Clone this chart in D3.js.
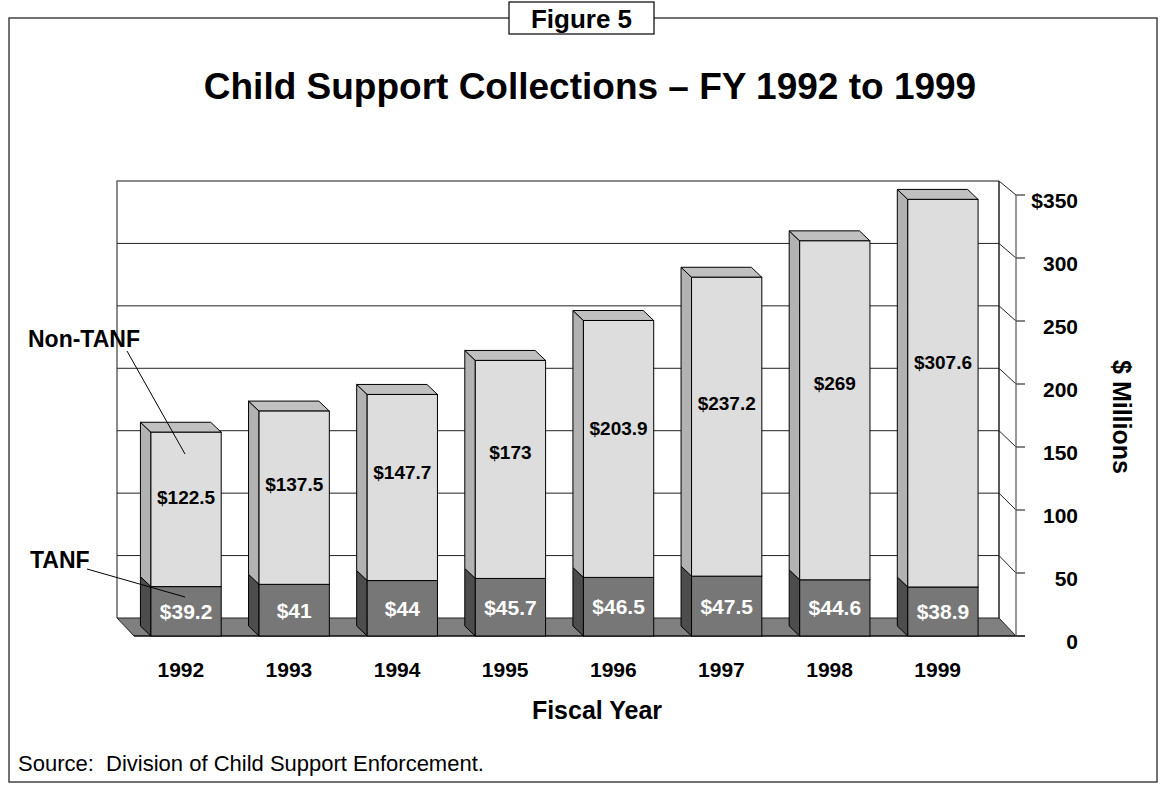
<!DOCTYPE html>
<html><head><meta charset="utf-8">
<script src="https://cdn.jsdelivr.net/npm/d3@7"></script>
<style>html,body{margin:0;padding:0;background:#fff;}svg{display:block;}text{font-family:"Liberation Sans",Arial,sans-serif;}</style>
</head><body>
<svg id="chart" width="1166" height="791"></svg>
<script>
const years = ["1992","1993","1994","1995","1996","1997","1998","1999"];
const tanf = [39.2, 41, 44, 45.7, 46.5, 47.5, 44.6, 38.9];
const nonTanf = [122.5, 137.5, 147.7, 173, 203.9, 237.2, 269, 307.6];
const yTicks = [0, 50, 100, 150, 200, 250, 300, 350];
const yTickLabels = ["0", "50", "100", "150", "200", "250", "300", "$350"];
const seriesNames = ["Non-TANF", "TANF"];

const svg = d3.select("#chart");

// frame
svg.append("path").attr("d","M509,18 H9 V782 H1157 V18 H654").attr("fill","none").attr("stroke","#444").attr("stroke-width",1.5);
svg.append("rect").attr("x",509).attr("y",2).attr("width",145).attr("height",32).attr("fill","#fff").attr("stroke","#000").attr("stroke-width",1.2);
svg.append("text").attr("x",581.5).attr("y",27.5).attr("text-anchor","middle").attr("font-size",26).attr("font-weight","bold").text("Figure 5");

svg.append("text").attr("x",590).attr("y",99).attr("text-anchor","middle").attr("font-size",37).attr("font-weight","bold").text("Child Support Collections \u2013 FY 1992 to 1999");

// 3D geometry
const yF = d3.scaleLinear().domain([0,350]).range([636,195]);
const yB = d3.scaleLinear().domain([0,350]).range([618,181]);
const frontL = 134, frontR = 1016, wdx = -17;
const x = d3.scaleBand().domain(years).range([132,997]).paddingInner(0.35).paddingOuter(0.175);
const bdx = -10.5, bdy = -10;

// back wall
svg.append("rect").attr("x",frontL+wdx).attr("y",yB(350)).attr("width",frontR-frontL).attr("height",yB(0)-yB(350)).attr("fill","#fff");
svg.append("path").attr("d",`M${frontL+wdx},${yB(0)} V${yB(350)} H${frontR+wdx}`).attr("fill","none").attr("stroke","#666").attr("stroke-width",1.5);
// side wall (right)
svg.append("path").attr("d",`M${frontR+wdx},${yB(350)} L${frontR},${yF(350)} V${yF(0)} L${frontR+wdx},${yB(0)} Z`).attr("fill","#fff").attr("stroke","none");
// gridlines
yTicks.filter(v=>v>0 && v<350).forEach(v=>{
  svg.append("line").attr("x1",frontL+wdx).attr("x2",frontR+wdx).attr("y1",yB(v)).attr("y2",yB(v)).attr("stroke","#222").attr("stroke-width",1);
});
yTicks.filter(v=>v>0).forEach(v=>{
  svg.append("line").attr("x1",frontR+wdx).attr("x2",frontR).attr("y1",yB(v)).attr("y2",yF(v)).attr("stroke","#222").attr("stroke-width",1);
});
// floor
svg.append("path").attr("d",`M${frontL+wdx},${yB(0)} H${frontR+wdx} L${frontR},${yF(0)} H${frontL} Z`).attr("fill","#808080").attr("stroke","#222").attr("stroke-width",1);
// wall edges
svg.append("line").attr("x1",frontR+wdx).attr("x2",frontR+wdx).attr("y1",yB(350)).attr("y2",yB(0)).attr("stroke","#222").attr("stroke-width",1.5);
svg.append("line").attr("x1",frontR).attr("x2",frontR).attr("y1",yF(350)).attr("y2",yF(0)).attr("stroke","#777").attr("stroke-width",1.5);
// axis ticks & labels
yTicks.forEach((v,i)=>{
  svg.append("line").attr("x1",frontR).attr("x2",frontR+9).attr("y1",yF(v)).attr("y2",yF(v)).attr("stroke","#333").attr("stroke-width",1.2);
  svg.append("text").attr("x",1078).attr("y",yF(v)+5.5).attr("dy","0.35em").attr("text-anchor","end").attr("font-size",21).attr("font-weight","bold").text(yTickLabels[i]);
});
svg.append("line").attr("x1",frontL).attr("x2",frontR+9).attr("y1",yF(0)).attr("y2",yF(0)).attr("stroke","#000").attr("stroke-width",1.2);

// bars
function seg(g, x0, x1, v0, v1, cFront, cSide, cTop) {
  const yb = yF(v0), yt = yF(v1);
  g.append("path").attr("d",`M${x0},${yb} L${x0+bdx},${yb+bdy} V${yt+bdy} L${x0},${yt} Z`).attr("fill",cSide).attr("stroke","#000").attr("stroke-width",1).attr("stroke-linejoin","round");
  if (cTop) g.append("path").attr("d",`M${x0},${yt} L${x0+bdx},${yt+bdy} H${x1+bdx} L${x1},${yt} Z`).attr("fill",cTop).attr("stroke","#000").attr("stroke-width",1).attr("stroke-linejoin","round");
  g.append("rect").attr("x",x0).attr("y",yt).attr("width",x1-x0).attr("height",yb-yt).attr("fill",cFront).attr("stroke","#000").attr("stroke-width",1);
}
const bars = svg.append("g");
years.forEach((yr,i)=>{
  const x0 = x(yr), x1 = x(yr)+x.bandwidth();
  const g = bars.append("g");
  seg(g, x0, x1, 0, tanf[i], "#777777", "#4d4d4d", null);
  seg(g, x0, x1, tanf[i], tanf[i]+nonTanf[i], "#dddddd", "#b2b2b2", "#c0c0c0");
  const cx = x0 + x.bandwidth()/2;
  g.append("text").attr("x",cx).attr("y",yF(tanf[i]/2)).attr("dy","0.36em").attr("text-anchor","middle").attr("font-size",21).attr("font-weight","bold").attr("fill","#fff").text("$"+tanf[i]);
  g.append("text").attr("x",cx).attr("y",yF(tanf[i]+nonTanf[i]*0.58)).attr("dy","0.36em").attr("text-anchor","middle").attr("font-size",19).attr("font-weight","bold").attr("fill","#000").text("$"+nonTanf[i]);
  svg.append("text").attr("x",cx+bdx/2).attr("y",676.5).attr("text-anchor","middle").attr("font-size",21).attr("font-weight","bold").text(yr);
});

// series labels with leader lines
svg.append("text").attr("x",28).attr("y",346.5).attr("font-size",23).attr("font-weight","bold").text(seriesNames[0]);
svg.append("line").attr("x1",127).attr("y1",351).attr("x2",185).attr("y2",454).attr("stroke","#000").attr("stroke-width",1);
svg.append("text").attr("x",30).attr("y",568).attr("font-size",23).attr("font-weight","bold").text(seriesNames[1]);
svg.append("line").attr("x1",87).attr("y1",569).attr("x2",185).attr("y2",597).attr("stroke","#000").attr("stroke-width",1);

// axis titles
svg.append("text").attr("x",597).attr("y",719).attr("text-anchor","middle").attr("font-size",25).attr("font-weight","bold").text("Fiscal Year");
svg.append("text").attr("transform","translate(1113,417) rotate(90)").attr("text-anchor","middle").attr("font-size",25).attr("font-weight","bold").text("$ Millions");

svg.append("text").attr("x",18).attr("y",771).attr("font-size",22).attr("xml:space","preserve").style("white-space","pre").text("Source:  Division of Child Support Enforcement.");
</script>
</body></html>
